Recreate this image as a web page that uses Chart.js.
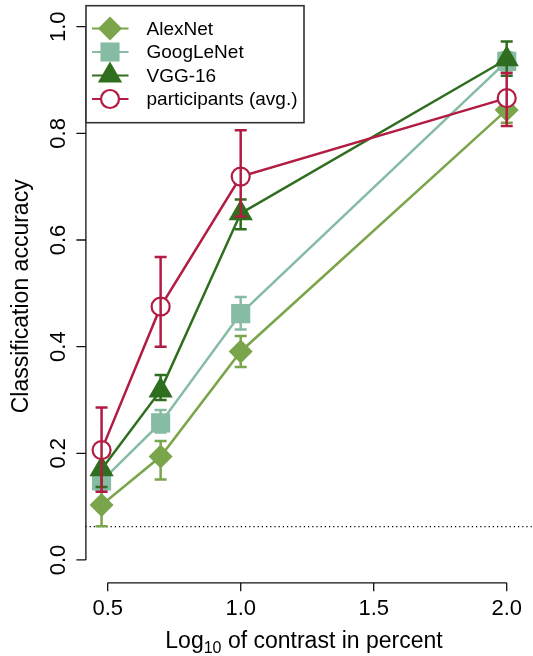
<!DOCTYPE html>
<html>
<head>
<meta charset="utf-8">
<script src="https://cdn.jsdelivr.net/npm/chart.js@4/dist/chart.umd.min.js"></script>
<style>
html, body { margin: 0; padding: 0; background: #fff; }
</style>
</head>
<body>
<canvas id="acc-chart" width="533" height="656"></canvas>
<script>
// log10 of contrast (3%, 5%, 10%, 100%)
var logContrast = [0.477, 0.699, 1.0, 2.0];
var seriesNames = ["AlexNet", "GoogLeNet", "VGG-16", "participants (avg.)"];

var alexnet   = [0.103, 0.194, 0.391, 0.844];
var alexnetLo = [0.063, 0.151, 0.362, 0.820];
var alexnetHi = [0.143, 0.223, 0.420, 0.868];

var googlenet   = [0.148, 0.257, 0.462, 0.935];
var googlenetLo = [0.130, 0.239, 0.432, 0.918];
var googlenetHi = [0.168, 0.281, 0.493, 0.952];

var vgg16   = [0.170, 0.318, 0.650, 0.939];
var vgg16Lo = [0.137, 0.300, 0.620, 0.908];
var vgg16Hi = [0.205, 0.347, 0.676, 0.972];

var participants   = [0.206, 0.475, 0.719, 0.866];
var participantsLo = [0.128, 0.400, 0.644, 0.814];
var participantsHi = [0.286, 0.568, 0.806, 0.913];

var xTicks = [0.5, 1.0, 1.5, 2.0];
var yTicks = [0.0, 0.2, 0.4, 0.6, 0.8, 1.0];
var chanceLevel = 0.0625;

var colors = ["#7aa54b", "#86bba4", "#2f6e1f", "#b21c42"];
var FONT = '"Liberation Sans", Arimo, Arial, sans-serif';

function pts(ys) {
    return ys.map(function (y, i) { return { x: logContrast[i], y: y }; });
}

function makeSet(i, ys, lo, hi, style, radius, order) {
    var hollow = style === 'circle';
    return {
        label: seriesNames[i],
        data: pts(ys),
        errLo: lo,
        errHi: hi,
        borderColor: colors[i],
        backgroundColor: colors[i],
        borderWidth: 2.5,
        pointStyle: style,
        pointRadius: radius,
        pointHoverRadius: radius,
        pointBackgroundColor: hollow ? '#fff' : colors[i],
        pointBorderColor: colors[i],
        pointBorderWidth: hollow ? 2.2 : 0,
        tension: 0,
        order: order
    };
}

var datasets = [
    makeSet(0, alexnet, alexnetLo, alexnetHi, 'rectRot', 12, 4),
    makeSet(1, googlenet, googlenetLo, googlenetHi, 'rect', 13.5, 3),
    makeSet(2, vgg16, vgg16Lo, vgg16Hi, 'triangle', 14, 2),
    makeSet(3, participants, participantsLo, participantsHi, 'circle', 9, 1)
];

// R-like look: error bars, dotted chance line, detached axes, boxed legend
var rStyle = {
    id: 'rStyle',
    beforeDatasetsDraw: function (chart) {
        var ctx = chart.ctx, ys = chart.scales.y, a = chart.chartArea;
        var yc = ys.getPixelForValue(chanceLevel);
        ctx.save();
        ctx.strokeStyle = '#000';
        ctx.lineWidth = 1.2;
        ctx.setLineDash([1.2, 3]);
        ctx.beginPath();
        ctx.moveTo(a.left, yc);
        ctx.lineTo(chart.width, yc);
        ctx.stroke();
        ctx.restore();
    },
    afterDatasetDraw: function (chart, args) {
        var ctx = chart.ctx, ds = chart.data.datasets[args.index];
        var xs = chart.scales.x, ys = chart.scales.y;
        ctx.save();
        ctx.strokeStyle = ds.borderColor;
        ctx.lineWidth = 2.5;
        ds.data.forEach(function (p, i) {
            var x = xs.getPixelForValue(p.x);
            var y1 = ys.getPixelForValue(ds.errLo[i]);
            var y2 = ys.getPixelForValue(ds.errHi[i]);
            ctx.beginPath();
            ctx.moveTo(x, y1); ctx.lineTo(x, y2);
            ctx.moveTo(x - 6, y1); ctx.lineTo(x + 6, y1);
            ctx.moveTo(x - 6, y2); ctx.lineTo(x + 6, y2);
            ctx.stroke();
        });
        ctx.restore();
    },
    afterDraw: function (chart) {
        var ctx = chart.ctx, xs = chart.scales.x, ys = chart.scales.y, a = chart.chartArea;
        ctx.save();
        ctx.strokeStyle = '#111';
        ctx.fillStyle = '#000';
        ctx.lineWidth = 1.3;

        // y axis
        var ax = a.left + 0.5;
        ctx.beginPath();
        ctx.moveTo(ax, ys.getPixelForValue(yTicks[0]));
        ctx.lineTo(ax, ys.getPixelForValue(yTicks[yTicks.length - 1]));
        yTicks.forEach(function (t) {
            var py = ys.getPixelForValue(t);
            ctx.moveTo(ax, py); ctx.lineTo(ax - 9.5, py);
        });
        ctx.stroke();
        ctx.font = '22px ' + FONT;
        ctx.textAlign = 'center';
        ctx.textBaseline = 'alphabetic';
        yTicks.forEach(function (t) {
            ctx.save();
            ctx.translate(65, ys.getPixelForValue(t));
            ctx.rotate(-Math.PI / 2);
            ctx.fillText(t.toFixed(1), 0, 0);
            ctx.restore();
        });

        // x axis
        var ay = a.bottom + 1.5;
        ctx.beginPath();
        ctx.moveTo(xs.getPixelForValue(xTicks[0]), ay);
        ctx.lineTo(xs.getPixelForValue(xTicks[xTicks.length - 1]), ay);
        xTicks.forEach(function (t) {
            var px = xs.getPixelForValue(t);
            ctx.moveTo(px, ay); ctx.lineTo(px, ay + 8.5);
        });
        ctx.stroke();
        xTicks.forEach(function (t) {
            ctx.fillText(t.toFixed(1), xs.getPixelForValue(t), 615);
        });

        // axis titles
        ctx.font = '23px ' + FONT;
        ctx.save();
        ctx.translate(28, ys.getPixelForValue(0.5) + 3);
        ctx.rotate(-Math.PI / 2);
        ctx.fillText('Classification accuracy', 0, 0);
        ctx.restore();

        var p1 = 'Log', p2 = '10', p3 = ' of contrast in percent';
        ctx.font = '23px ' + FONT;
        var w1 = ctx.measureText(p1).width, w3 = ctx.measureText(p3).width;
        ctx.font = '16px ' + FONT;
        var w2 = ctx.measureText(p2).width;
        var sx = 304 - (w1 + w2 + w3) / 2;
        ctx.textAlign = 'left';
        ctx.font = '23px ' + FONT;
        ctx.fillText(p1, sx, 648);
        ctx.fillText(p3, sx + w1 + w2, 648);
        ctx.font = '16px ' + FONT;
        ctx.fillText(p2, sx + w1, 653);

        // legend
        var lx = 86, ly = 5.7, lw = 218, lh = 117;
        ctx.fillStyle = '#fff';
        ctx.fillRect(lx, ly, lw, lh);
        ctx.strokeStyle = '#333';
        ctx.lineWidth = 1.6;
        ctx.strokeRect(lx, ly, lw, lh);
        var rowY = [28.5, 52, 75.5, 99];
        chart.data.datasets.forEach(function (ds, i) {
            var y = rowY[i];
            ctx.strokeStyle = ds.borderColor;
            ctx.lineWidth = 2;
            ctx.beginPath();
            ctx.moveTo(92, y); ctx.lineTo(128.5, y);
            ctx.stroke();
            ctx.fillStyle = ds.pointBackgroundColor;
            ctx.strokeStyle = ds.pointBorderColor;
            ctx.lineWidth = ds.pointBorderWidth;
            Chart.helpers.drawPoint(ctx, {
                pointStyle: ds.pointStyle,
                radius: ds.pointRadius,
                borderWidth: ds.pointBorderWidth,
                rotation: 0
            }, 110, y);
            ctx.fillStyle = '#000';
            ctx.font = '19px ' + FONT;
            ctx.textBaseline = 'middle';
            ctx.fillText(ds.label, 146.5, y + 1);
        });
        ctx.restore();
    }
};

new Chart(document.getElementById('acc-chart'), {
    type: 'line',
    data: { datasets: datasets },
    options: {
        responsive: false,
        devicePixelRatio: 1,
        animation: false,
        // top/right at least the largest marker radius (Chart.js keeps room for edge points)
        layout: { padding: { left: 85.4, right: 14, top: 14, bottom: 74.7 } },
        scales: {
            x: { type: 'linear', min: 0.4162, max: 2.0462, display: false },
            y: { type: 'linear', min: -0.04, max: 1.0238, display: false }
        },
        plugins: {
            legend: { display: false },
            tooltip: { enabled: false }
        }
    },
    plugins: [rStyle]
});
</script>
</body>
</html>
